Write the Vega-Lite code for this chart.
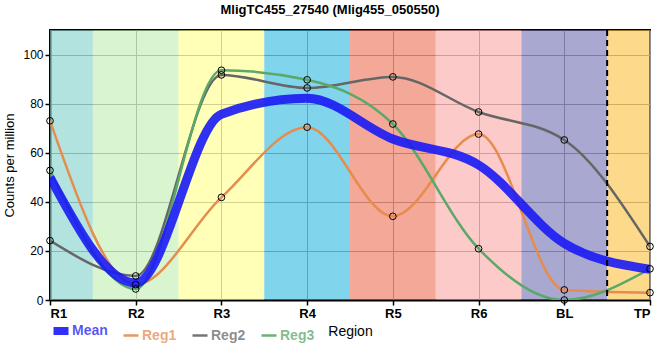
{
  "$schema": "https://vega.github.io/schema/vega-lite/v6.json",
  "width": 600,
  "height": 270,
  "autosize": "none",
  "padding": {"left": 50, "top": 30, "right": 10, "bottom": 60},
  "title": {"text": "MligTC455_27540 (Mlig455_050550)", "fontSize": 13, "fontWeight": "bold", "font": "Liberation Sans", "color": "black", "anchor": "middle", "dx": -20, "offset": 12},
  "config": {
    "font": "Liberation Sans",
    "view": {"stroke": "black", "strokeWidth": 2},
    "axis": {"domainColor": "black", "domainWidth": 2, "tickColor": "black", "tickWidth": 1.5, "gridColor": "#8e8e8e", "gridWidth": 1, "gridOpacity": 1, "labelColor": "black", "titleColor": "black", "tickSize": 5, "labelPadding": 2},
    "axisY": {"labelFontSize": 12, "titleFontSize": 13, "titleFontWeight": "normal", "titlePadding": 6},
    "axisX": {"labelFontSize": 13, "labelFontWeight": "bold", "titleFontSize": 14, "titleFontWeight": "normal", "titlePadding": 4}
  },
  "datasets": {
    "bands": [
      {"region": "Tip", "start": 0, "end": 0.5},
      {"region": "Brain", "start": 0.5, "end": 1.5},
      {"region": "Pharynx", "start": 1.5, "end": 2.5},
      {"region": "Testes", "start": 2.5, "end": 3.5},
      {"region": "Ovaries", "start": 3.5, "end": 4.5},
      {"region": "Antrum", "start": 4.5, "end": 5.5},
      {"region": "Blastema", "start": 5.5, "end": 6.5},
      {"region": "Tail", "start": 6.5, "end": 7}
    ],
    "counts": [
      {"idx": 0, "site": "R1", "series": "Reg1", "cpm": 73.0},
      {"idx": 1, "site": "R2", "series": "Reg1", "cpm": 6.3},
      {"idx": 2, "site": "R3", "series": "Reg1", "cpm": 41.8},
      {"idx": 3, "site": "R4", "series": "Reg1", "cpm": 70.4},
      {"idx": 4, "site": "R5", "series": "Reg1", "cpm": 34.1},
      {"idx": 5, "site": "R6", "series": "Reg1", "cpm": 67.6},
      {"idx": 6, "site": "BL", "series": "Reg1", "cpm": 4.1},
      {"idx": 7, "site": "TP", "series": "Reg1", "cpm": 3.0},
      {"idx": 0, "site": "R1", "series": "Reg2", "cpm": 24.2},
      {"idx": 1, "site": "R2", "series": "Reg2", "cpm": 9.8},
      {"idx": 2, "site": "R3", "series": "Reg2", "cpm": 91.7},
      {"idx": 3, "site": "R4", "series": "Reg2", "cpm": 86.4},
      {"idx": 4, "site": "R5", "series": "Reg2", "cpm": 90.9},
      {"idx": 5, "site": "R6", "series": "Reg2", "cpm": 76.6},
      {"idx": 6, "site": "BL", "series": "Reg2", "cpm": 65.2},
      {"idx": 7, "site": "TP", "series": "Reg2", "cpm": 21.8},
      {"idx": 0, "site": "R1", "series": "Reg3", "cpm": 52.8},
      {"idx": 1, "site": "R2", "series": "Reg3", "cpm": 4.5},
      {"idx": 2, "site": "R3", "series": "Reg3", "cpm": 93.6},
      {"idx": 3, "site": "R4", "series": "Reg3", "cpm": 89.7},
      {"idx": 4, "site": "R5", "series": "Reg3", "cpm": 71.7},
      {"idx": 5, "site": "R6", "series": "Reg3", "cpm": 20.9},
      {"idx": 6, "site": "BL", "series": "Reg3", "cpm": 0.0},
      {"idx": 7, "site": "TP", "series": "Reg3", "cpm": 12.7},
      {"idx": 0, "site": "R1", "series": "Mean", "cpm": 50.0},
      {"idx": 1, "site": "R2", "series": "Mean", "cpm": 6.9},
      {"idx": 2, "site": "R3", "series": "Mean", "cpm": 75.7},
      {"idx": 3, "site": "R4", "series": "Mean", "cpm": 82.2},
      {"idx": 4, "site": "R5", "series": "Mean", "cpm": 65.6},
      {"idx": 5, "site": "R6", "series": "Mean", "cpm": 55.0},
      {"idx": 6, "site": "BL", "series": "Mean", "cpm": 23.1},
      {"idx": 7, "site": "TP", "series": "Mean", "cpm": 12.5}
    ]
  },
  "layer": [
    {
      "data": {"name": "bands"},
      "mark": {"type": "rect", "opacity": 0.6},
      "encoding": {
        "x": {"field": "start", "type": "quantitative", "scale": {"domain": [0, 7], "nice": false, "zero": false},
          "axis": {"title": "Region", "values": [0, 1, 2, 3, 4, 5, 6, 7], "labelExpr": "['R1','R2','R3','R4','R5','R6','BL','TP'][datum.value]"}},
        "x2": {"field": "end"},
        "fill": {"field": "region", "type": "nominal", "legend": null,
          "scale": {"domain": ["Tip", "Brain", "Pharynx", "Testes", "Ovaries", "Antrum", "Blastema", "Tail"],
                    "range": ["#80d0c8", "#c0eeb1", "#ffff89", "#2bb7df", "#ed6e53", "#fca7a7", "#6e6eb1", "#fcc03f"]}}
      }
    },
    {
      "data": {"name": "counts"},
      "transform": [{"filter": "datum.series !== 'Mean'"}],
      "mark": {"type": "line", "interpolate": "monotone", "strokeWidth": 2.5, "clip": true},
      "encoding": {
        "x": {"field": "idx", "type": "quantitative"},
        "y": {"field": "cpm", "type": "quantitative",
          "scale": {"domain": [0, 110], "nice": false},
          "axis": {"title": "Counts per million", "values": [0, 10, 20, 30, 40, 50, 60, 70, 80, 90, 100, 110], "labelOverlap": false}},
        "color": {"field": "series", "type": "nominal",
          "scale": {"domain": ["Mean", "Reg1", "Reg2", "Reg3"], "range": ["#1a1af5", "#e68c4e", "#666666", "#5aa86a"]},
          "legend": {"title": null, "orient": "none", "legendX": 4, "legendY": 294, "direction": "horizontal",
            "symbolType": "stroke", "symbolSize": 225, "symbolStrokeWidth": 2.5, "labelFontSize": 14, "labelFontWeight": "bold", "labelOffset": 4, "columnPadding": 10, "labelOpacity": 0.75,
            "encode": {
              "symbols": {"update": {"strokeWidth": {"signal": "datum.value === 'Mean' ? 8 : 2.5"}, "strokeOpacity": {"value": 0.9}}},
              "labels": {"update": {"fill": {"scale": "color", "field": "value"}}}
            }}
        },
        "detail": {"field": "series"}
      }
    },
    {
      "data": {"name": "counts"},
      "transform": [{"filter": "datum.series === 'Mean'"}],
      "mark": {"type": "line", "interpolate": "monotone", "strokeWidth": 9, "opacity": 0.9, "clip": true},
      "encoding": {
        "x": {"field": "idx", "type": "quantitative"},
        "y": {"field": "cpm", "type": "quantitative"},
        "color": {"field": "series", "type": "nominal"}
      }
    },
    {
      "data": {"name": "counts"},
      "transform": [{"filter": "datum.series !== 'Mean'"}],
      "mark": {"type": "point", "filled": false, "stroke": "black", "strokeWidth": 1, "size": 45, "opacity": 1},
      "encoding": {
        "x": {"field": "idx", "type": "quantitative"},
        "y": {"field": "cpm", "type": "quantitative"}
      }
    },
    {
      "data": {"name": "bands"},
      "transform": [{"filter": "datum.region === 'Tail'"}],
      "mark": {"type": "rule", "color": "black", "strokeWidth": 2, "strokeDash": [6, 4]},
      "encoding": {"x": {"field": "start", "type": "quantitative"}}
    }
  ]
}
